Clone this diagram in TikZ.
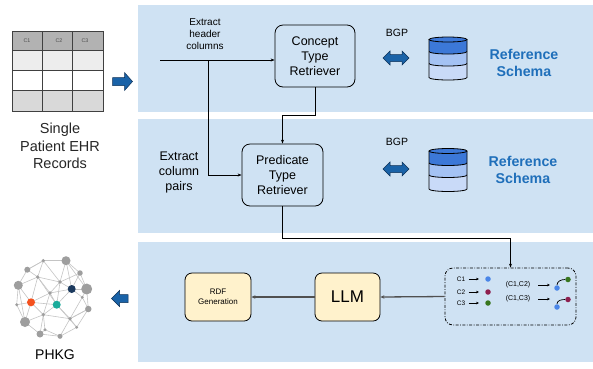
\documentclass[tikz,border=0pt]{standalone}
\usepackage{fontspec}
\setmainfont{Liberation Sans}
\usetikzlibrary{arrows.meta,calc}

\definecolor{panel}{HTML}{CFE2F3}
\definecolor{blockblue}{HTML}{1A63A8}
\definecolor{blockedge}{HTML}{0B2F55}
\definecolor{schema}{HTML}{1F6FBA}
\definecolor{dbA}{HTML}{3C78D8}
\definecolor{dbB}{HTML}{A4C2F4}
\definecolor{dbC}{HTML}{C9DAF8}
\definecolor{boxyellow}{HTML}{FFF2CC}
\definecolor{flowgray}{HTML}{505050}
\definecolor{dotblue}{HTML}{4A86E8}
\definecolor{dotred}{HTML}{8E1F4E}
\definecolor{dotgreen}{HTML}{38761D}
\definecolor{netgray}{HTML}{9E9E9E}
\definecolor{netline}{HTML}{C4C4C4}
\definecolor{netorange}{HTML}{F4511E}
\definecolor{netteal}{HTML}{1AAB9B}
\definecolor{netnavy}{HTML}{1C3A5E}

\tikzset{
  fs/.style={font={\fontsize{#1}{#1}\selectfont\baselineskip=1.2em}},
  retriever/.style={draw=black, line width=0.8pt, rounded corners=8pt, fill=panel,
    align=center, inner sep=0pt, fs=12.5},
  stagebox/.style={draw=black, line width=0.8pt, rounded corners=7pt, fill=boxyellow,
    align=center, inner sep=0pt},
  thinflow/.style={line width=0.7pt, -{Stealth[length=4pt,width=3pt]}},
  thickflow/.style={draw=flowgray, line width=1.3pt, -{Stealth[length=4pt,width=3.5pt]}},
  blockarrow/.style={fill=blockblue, draw=blockedge, line width=0.5pt},
  tinyarrow/.style={line width=0.7pt, -{Stealth[length=3pt,width=2.6pt]}},
  netedge/.style={draw=netline, line width=0.6pt},
  netdot/.style={circle, fill=netgray, inner sep=0pt, minimum size=#1},
  netdot/.default=3.4pt,
  dbcyl/.pic={
    % three stacked discs of the schema store
    \fill[dbC] (-19,24) -- (-19,38) arc[start angle=180,end angle=0,x radius=19,y radius=2.5]
      -- (19,24) arc[start angle=0,end angle=180,x radius=19,y radius=2.5] -- cycle;
    \fill[dbB] (-19,12) -- (-19,24) arc[start angle=180,end angle=0,x radius=19,y radius=2.5]
      -- (19,12) arc[start angle=0,end angle=180,x radius=19,y radius=2.5] -- cycle;
    \fill[dbA] (-19,0) -- (-19,12) arc[start angle=180,end angle=0,x radius=19,y radius=2.5]
      -- (19,0) arc[start angle=0,end angle=180,x radius=19,y radius=2.5] -- cycle;
    \draw[line width=0.8pt] (-19,12) arc[start angle=180,end angle=0,x radius=19,y radius=2.5];
    \draw[line width=0.8pt] (-19,24) arc[start angle=180,end angle=0,x radius=19,y radius=2.5];
    \draw[line width=0.8pt] (-19,0) -- (-19,38) arc[start angle=180,end angle=0,x radius=19,y radius=2.5]
      -- (19,0);
    \draw[line width=0.8pt, fill=dbA] (0,0) ellipse[x radius=19,y radius=2.5];
  },
  bgparrow/.pic={
    \draw[blockarrow] (-13,0) -- (-6,-7) -- (-6,-3.5) -- (6,-3.5) -- (6,-7) -- (13,0)
      -- (6,7) -- (6,3.5) -- (-6,3.5) -- (-6,7) -- cycle;
  }
}

\begin{document}
\begin{tikzpicture}[x=1pt,y=-1pt]
\useasboundingbox (0,0) rectangle (593,368);

% stage panels
\fill[panel] (138,5) rectangle (593,112);
\fill[panel] (138,119) rectangle (593,233);
\fill[panel] (138,242) rectangle (593,362);

% patient record table
\fill[black!30] (12,31) rectangle (103,50);
\fill[black!7] (12,50) rectangle (103,70);
\fill[white] (12,70) rectangle (103,90);
\fill[black!15] (12,90) rectangle (103,111);
\draw[line width=0.7pt, black!75] (12,31) rectangle (103,111);
\foreach \yy in {50,70,90} \draw[line width=0.7pt, black!75] (12,\yy) -- (103,\yy);
\foreach \xx in {42,72} \draw[line width=0.7pt, black!75] (\xx,31) -- (\xx,111);
\node[fs=5.3, text=black!70] (hc1) at (27,40.5) {C1};
\node[fs=5.3, text=black!70] (hc2) at (59,40.5) {C2};
\node[fs=5.3, text=black!70] (hc3) at (85,40.5) {C3};
\node[fs=14.5, align=center, text=black!85] (ehr) at (60,146) {Single\\Patient EHR\\Records};

% input and output block arrows
\draw[blockarrow] (112.5,77.5) -- (124.5,77.5) -- (124.5,72.5) -- (132.5,81.5)
  -- (124.5,90.5) -- (124.5,85.5) -- (112.5,85.5) -- cycle;
\draw[blockarrow] (128,294.5) -- (119.5,294.5) -- (119.5,290.5) -- (111.5,298.5)
  -- (119.5,306.5) -- (119.5,302.5) -- (128,302.5) -- cycle;

% stage 1: concept types
\node[retriever, minimum width=80pt, minimum height=62pt] (cpt) at (315,56)
  {Concept\\Type\\Retriever};
\node[fs=10, align=center] (hdrlbl) at (205,34) {Extract\\header\\columns};
\coordinate (hstart) at (160,60);
\coordinate (hjoin) at (208,60);
\draw[thinflow] (hstart) -- (hstart -| cpt.west);

\node[fs=10.5] (bgp1) at (397,33) {BGP};
\pic at (383+13,58) {bgparrow};
\pic at (448,39.5) {dbcyl};
\node[fs=14.2, text=schema, align=center] (ref1) at (524,63)
  {\textbf{Reference}\\\textbf{Schema}};

% stage 2: predicate types
\node[retriever, minimum width=81pt, minimum height=62pt] (pred) at (282.5,175)
  {Predicate\\Type\\Retriever};
\node[fs=12.5, align=center] (pairlbl) at (179,172) {Extract\\column\\pairs};
\draw[thinflow] (hjoin) |- (pred.west);
\draw[thinflow] (cpt.south) -- ++(0,28) -| (pred.north);

\node[fs=10.5] (bgp2) at (397,142) {BGP};
\pic at (383+13,169) {bgparrow};
\pic at (448,151) {dbcyl};
\node[fs=14.2, text=schema, align=center] (ref2) at (523,170)
  {\textbf{Reference}\\\textbf{Schema}};

% stage 3: column/pair encoding, LLM and RDF generation
\node[draw=black, line width=0.8pt, rounded corners=8pt,
  dash pattern=on 3pt off 1.5pt on 0.8pt off 1.5pt,
  minimum width=131pt, minimum height=57pt] (enc) at (510.5,296.5) {};
\draw[thinflow] (pred.south) -- ++(0,31.5) -| (enc.north);

\node[stagebox, minimum width=65pt, minimum height=48pt, fs=17] (llm) at (347.5,297) {LLM};
\node[stagebox, minimum width=66pt, minimum height=48pt, fs=8] (rdf) at (218,297)
  {RDF\\Generation};
\draw[thickflow] (enc.west) -- (llm.east);
\draw[thickflow] (llm.west) -- (rdf.east);

% columns mapped to entity dots
\foreach \nm/\yy/\cc in {1/279/dotblue, 2/292/dotred, 3/303/dotgreen}{
  \node[fs=6.5] (cl\nm) at (461,\yy) {C\nm};
  \node[circle, fill=\cc, inner sep=0pt, minimum size=5.5pt] (cd\nm) at (488,\yy) {};
  \draw[tinyarrow] (cl\nm.east) -- (479,\yy);
}
% column pairs mapped to linked dots
\node[fs=7] (pr12) at (518,285) {(C1,C2)};
\node[fs=7] (pr13) at (518,299) {(C1,C3)};
\draw[tinyarrow] (538,285) -- (550,285);
\draw[tinyarrow] (538,299) -- (550,299);
\node[circle, fill=dotblue, inner sep=0pt, minimum size=5.5pt] (pa1) at (557,288) {};
\node[circle, fill=dotgreen, inner sep=0pt, minimum size=5.5pt] (pa2) at (568,279.5) {};
\node[circle, fill=dotblue, inner sep=0pt, minimum size=5.5pt] (pb1) at (557,307) {};
\node[circle, fill=dotred, inner sep=0pt, minimum size=5.5pt] (pb2) at (568,299.5) {};
\draw[line width=0.7pt] (pa1) to[out=90, in=180] (pa2);
\draw[line width=0.7pt] (pb1) to[out=90, in=180] (pb2);

% personal health knowledge graph
\foreach \nm/\px/\py in {
  a/43.3/260.7, b/66/260.7, c/27.3/269.7, d/80/273, e/37.7/277,
  f/18.3/285.3, g/60/282, i/86.7/289, j/50/293, k/82.3/297.3,
  n/16.7/304.7, o/88.3/309, p/43.3/314.7, q/70/318.7, r/25/322,
  s/76.7/327.3, t/45/329.7, u/40/334, v/60/336.3}
  \coordinate (g\nm) at (\px,\py);
\coordinate (gh) at (71.7,289);
\coordinate (gl) at (31,302.3);
\coordinate (gm) at (56.7,304.7);
\foreach \u/\w in {a/b,a/c,a/e,a/g,b/d,b/g,b/h,c/e,c/f,d/i,d/h,e/f,e/g,e/j,e/l,
  f/l,f/n,g/h,g/j,h/i,h/k,h/m,h/j,i/k,i/o,j/l,j/m,k/o,k/q,l/m,l/n,l/p,l/r,m/q,
  m/p,n/r,o/q,o/s,p/r,p/t,p/q,q/s,q/v,r/u,t/u,t/v,u/v,s/v,j/p,d/g,f/r,
  c/a,b/i,e/m,g/m,m/s,p/u,q/o}
  \draw[netedge] (g\u) -- (g\w);
\foreach \nm/\sz in {a/3.6, b/9, c/6, d/5.5, e/3.6, f/9, g/3.6, i/11, j/3.6, k/3.2,
  n/3.2, o/6.5, p/3.6, q/3.6, r/10, s/3.2, t/3.2, u/7, v/5}
  \node[netdot=\sz pt] (nd\nm) at (g\nm) {};
\node[circle, fill=netnavy, inner sep=0pt, minimum size=8pt] (ndh) at (gh) {};
\node[circle, fill=netorange, inner sep=0pt, minimum size=8pt] (ndl) at (gl) {};
\node[circle, fill=netteal, inner sep=0pt, minimum size=8pt] (ndm) at (gm) {};
\node[fs=14] (phkg) at (55,355) {PHKG};
\end{tikzpicture}
\end{document}
